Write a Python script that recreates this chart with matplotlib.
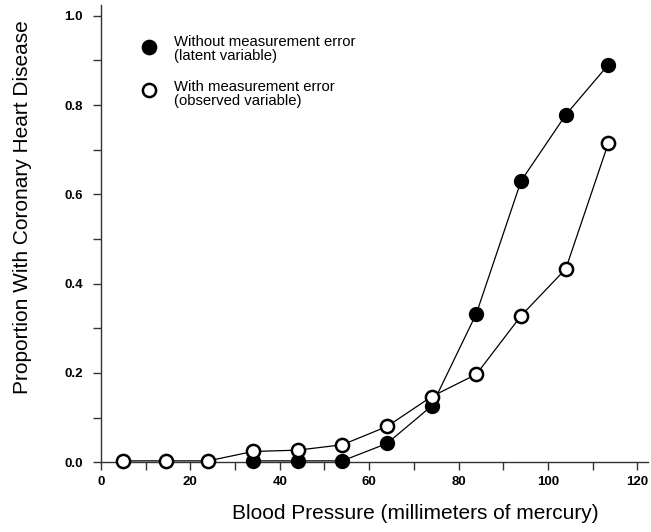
import numpy as np
import matplotlib
matplotlib.use("Agg")
import matplotlib.pyplot as plt
from matplotlib.ticker import MultipleLocator, FormatStrFormatter

plt.rcParams['font.family'] = ['Liberation Sans', 'DejaVu Sans']

# data
bp_latent = [34, 44, 54, 64, 74, 84, 94, 104, 113.5]
chd_latent = [0.003, 0.003, 0.003, 0.042, 0.126, 0.333, 0.630, 0.778, 0.890]

bp_observed = [5, 14.5, 24, 34, 44, 54, 64, 74, 84, 94, 104, 113.5]
chd_observed = [0.003, 0.003, 0.003, 0.024, 0.027, 0.039, 0.080, 0.147, 0.197, 0.328, 0.433, 0.714]

legend_labels = ['Without measurement error\n(latent variable)',
                 'With measurement error\n(observed variable)']

fig = plt.figure(figsize=(6.51, 5.32), dpi=100)
ax = fig.add_axes([0.1551, 0.1312, 0.841, 0.8594])

ms = 9.5
ax.plot(bp_latent, chd_latent, color='black', lw=0.9, marker='o', ms=ms,
        mfc='black', mec='black', mew=1.5, zorder=3, clip_on=False)
ax.plot(bp_observed, chd_observed, color='black', lw=0.9, marker='o', ms=ms,
        mfc='white', mec='black', mew=1.8, zorder=4, clip_on=False)

ax.set_xlim(0, 122.5)
ax.set_ylim(0, 1.024)
ax.set_xticks(np.arange(0, 121, 20))
ax.set_yticks(np.arange(0, 1.01, 0.2))
ax.xaxis.set_minor_locator(MultipleLocator(10))
ax.yaxis.set_minor_locator(MultipleLocator(0.1))
ax.yaxis.set_major_formatter(FormatStrFormatter('%.1f'))

for s in ['top', 'right']:
    ax.spines[s].set_visible(False)
for s in ['left', 'bottom']:
    ax.spines[s].set_linewidth(1.0)
    ax.spines[s].set_color('#333333')

ax.tick_params(which='both', direction='out', length=6, width=1.0, color='#333333')
ax.tick_params(axis='y', which='major', pad=7, labelsize=9.5)
ax.tick_params(axis='x', which='major', pad=4, labelsize=9.5)
for lab in ax.get_xticklabels() + ax.get_yticklabels():
    lab.set_fontweight('bold')

ax.set_xlabel('Blood Pressure (millimeters of mercury)', fontsize=15)
ax.set_ylabel('Proportion With Coronary Heart Disease', fontsize=15)
ax.xaxis.label.set_verticalalignment('center')
ax.yaxis.label.set_verticalalignment('center')
ax.xaxis.set_label_coords(0.575, -0.113)
ax.yaxis.set_label_coords(-0.144, 0.558)

# legend drawn by hand
marker_y = [0.908, 0.814]
text_y = [0.903, 0.806]
fills = ['black', 'white']
for my, ty, fc, lab in zip(marker_y, text_y, fills, legend_labels):
    ax.plot([0.088], [my], transform=ax.transAxes, marker='o', ms=ms,
            mfc=fc, mec='black', mew=1.8, clip_on=False)
    ax.text(0.134, ty, lab, transform=ax.transAxes, fontsize=10.7,
            va='center', ha='left', linespacing=1.0)

fig.savefig('out.png', dpi=100)
